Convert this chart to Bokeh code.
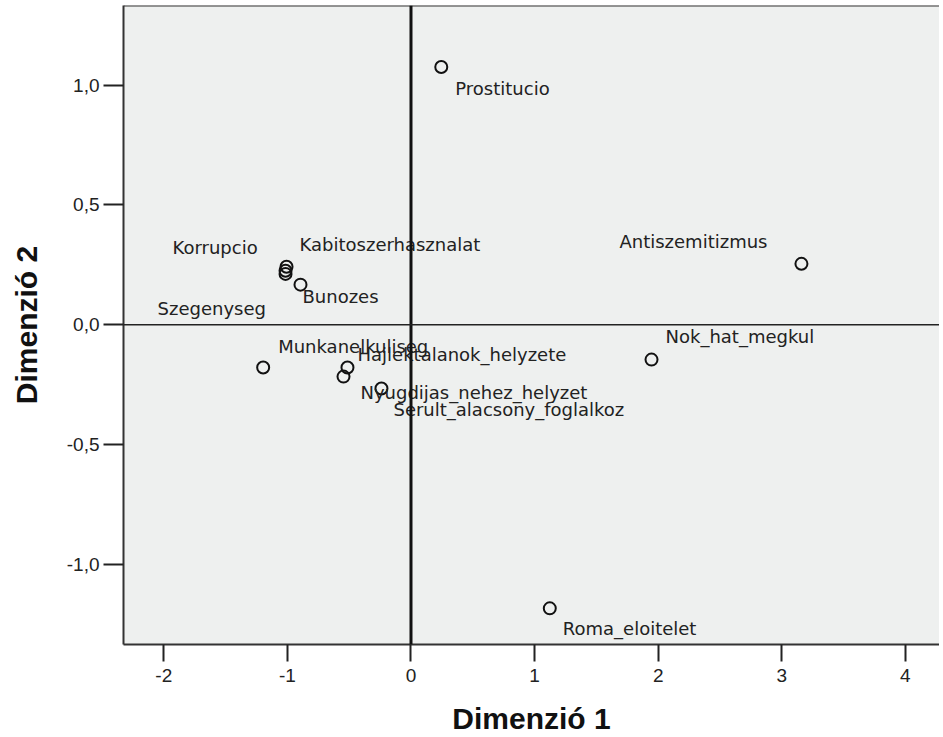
from bokeh.plotting import figure
from bokeh.models import ColumnDataSource, Span, FixedTicker, Range1d
from bokeh.core.properties import value
from bokeh.embed import file_html
from bokeh.resources import INLINE

# ---- data ----
names = ["Prostitucio", "Antiszemitizmus", "Nok_hat_megkul", "Roma_eloitelet",
         "Korrupcio", "Kabitoszerhasznalat", "Szegenyseg", "Bunozes",
         "Munkanelkuliseg", "Hajlektalanok_helyzete", "Nyugdijas_nehez_helyzet",
         "Serult_alacsony_foglalkoz"]
dim1 = [0.245, 3.159, 1.946, 1.123, -1.007, -1.015, -1.015, -0.894,
        -1.196, -0.546, -0.514, -0.239]
dim2 = [1.076, 0.254, -0.146, -1.185, 0.242, 0.225, 0.212, 0.167,
        -0.179, -0.217, -0.179, -0.267]

x_ticks = [-2, -1, 0, 1, 2, 3, 4]
x_tick_labels = ["-2", "-1", "0", "1", "2", "3", "4"]
y_ticks = [-1.0, -0.5, 0.0, 0.5, 1.0]
y_tick_labels = ["-1,0", "-0,5", "0,0", "0,5", "1,0"]

x_title = "Dimenzió 1"
y_title = "Dimenzió 2"

# ---- label placement (screen pixel offsets, style only) ----
lbl_dx = [14, -182, 14, 13, -114, 14, -128, 2, 15, 14, 13, 12]
lbl_dy = [21, -22, -23, 20, -19, -26, 35, 12, -21, -22, 25, 21]

src = ColumnDataSource(dict(dim1=dim1, dim2=dim2, names=names, dx=lbl_dx, dy=lbl_dy))

p = figure(width=939, height=737,
           x_range=Range1d(-2.326, 4.276), y_range=Range1d(-1.336, 1.333),
           output_backend="svg", toolbar_location=None,
           min_border_left=123, min_border_right=0, min_border_top=5, min_border_bottom=91,
           background_fill_color="#EEF0EF", border_fill_color="white",
           outline_line_color=None)
p.grid.visible = False

# axes
for ax in (p.xaxis[0], p.yaxis[0]):
    ax.major_tick_in = 0
    ax.minor_tick_line_color = None
    ax.major_tick_line_width = 2
    ax.major_tick_line_color = "#222222"
    ax.axis_line_width = 2
    ax.axis_line_color = "#333333"
    ax.major_label_text_font = "Liberation Sans"
    ax.major_label_text_font_size = "19px"
    ax.major_label_text_color = "#222222"
    ax.axis_label_text_font = "Liberation Sans"
    ax.axis_label_text_font_style = "bold"
    ax.axis_label_text_font_size = "30px"
    ax.axis_label_text_color = "#111111"

p.xaxis.ticker = FixedTicker(ticks=x_ticks)
p.xaxis.major_label_overrides = dict(zip(x_ticks, x_tick_labels))
p.xaxis.major_tick_out = 17
p.xaxis.major_label_standoff = 7
p.xaxis.axis_label = x_title
p.xaxis.axis_label_standoff = 17

p.yaxis.ticker = FixedTicker(ticks=y_ticks)
p.yaxis.major_label_overrides = dict(zip(y_ticks, y_tick_labels))
p.yaxis.major_tick_out = 20
p.yaxis.major_label_standoff = 4
p.yaxis.axis_label = y_title
p.yaxis.axis_label_standoff = 21

# frame top border and zero lines
p.add_layout(Span(location=p.y_range.end, dimension="width", line_color="#333333", line_width=2))
p.add_layout(Span(location=0, dimension="height", line_color="#111111", line_width=3))
p.add_layout(Span(location=0, dimension="width", line_color="#222222", line_width=1.5))

p.scatter(x="dim1", y="dim2", source=src, marker="circle", size=12,
          fill_color=None, line_color="#111111", line_width=2)
p.text(x="dim1", y="dim2", text="names", x_offset="dx", y_offset="dy", source=src,
       text_font=value("DejaVu Sans"), text_font_size=value("18px"),
       text_baseline="middle", text_align="left", text_color="#222222")

open("out.html", "w").write(file_html(p, INLINE))
